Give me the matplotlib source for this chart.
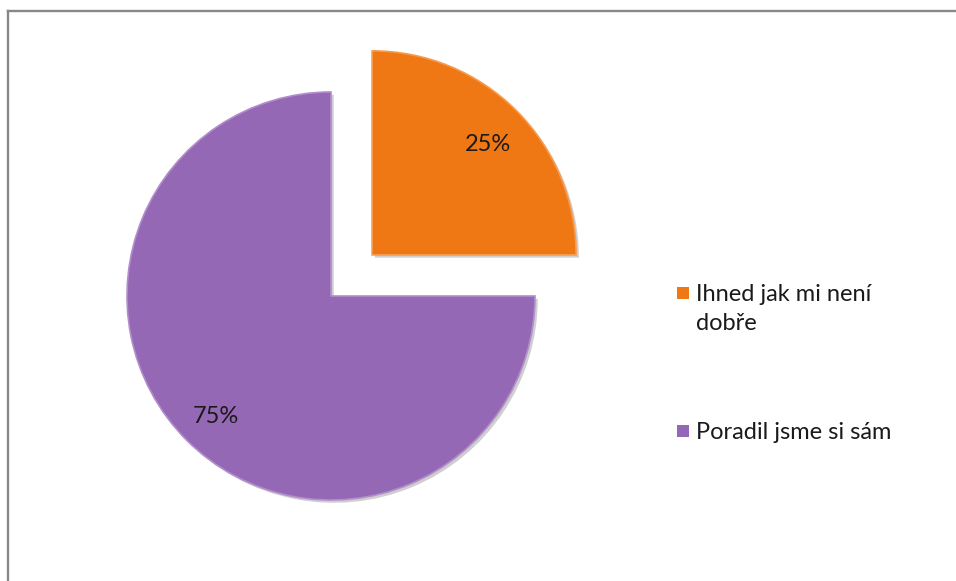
import matplotlib
matplotlib.use("Agg")
import matplotlib.pyplot as plt
import matplotlib.patheffects as pe
from matplotlib.patches import Rectangle
from matplotlib.lines import Line2D

# podíly odpovědí
labels = ["Ihned jak mi není\ndobře", "Poradil jsme si sám"]
values = [25, 75]
colors = ["#F07814", "#9568B5"]
edge_colors = ["#F59A4E", "#B28DCB"]

W, H = 956, 581
plt.rcParams["font.family"] = ["Lato", "DejaVu Sans"]

fig = plt.figure(figsize=(W / 100, H / 100), dpi=100)
ax = fig.add_axes([0, 0, 1, 1])

# pixel geometry of the pie: centre and radius
cx, cy, r = 331, 296, 204

wedges, texts, autotexts = ax.pie(
    values,
    colors=colors,
    startangle=90,
    counterclock=False,
    explode=[0.285, 0],
    autopct="%1.0f%%",
    pctdistance=0.8,
    textprops={"fontsize": 17, "color": "#1a1a1a"},
    wedgeprops={"linewidth": 1.2},
)
for w, ec in zip(wedges, edge_colors):
    w.set_edgecolor(ec)
    w.set_path_effects([
        pe.SimplePatchShadow(offset=(2, -2), shadow_rgbFace="#777777", alpha=0.35),
        pe.Normal(),
    ])
# percent labels sit a touch lower than the geometric centre
for t in autotexts:
    x, y = t.get_position()
    t.set_position((x, y - 0.025))

ax.set_xlim(-cx / r, (W - cx) / r)
ax.set_ylim(-(H - cy) / r, cy / r)
ax.set_aspect("auto")
ax.axis("off")

# legenda vpravo
legend_y = [293, 431]
for lab, col, y in zip(labels, colors, legend_y):
    fig.patches.append(Rectangle((677 / W, 1 - (y + 6) / H), 12 / W, 12 / H,
                                 transform=fig.transFigure, facecolor=col,
                                 edgecolor="none"))
    fig.text(696 / W, 1 - (y - 9) / H, lab, fontsize=17, color="#1a1a1a",
             va="top", ha="left", linespacing=1.45)

# rámeček grafu (horní a levá hrana)
fig.add_artist(Line2D([8 / W, 1], [1 - 11 / H, 1 - 11 / H], transform=fig.transFigure,
                      color="#888888", linewidth=1.7))
fig.add_artist(Line2D([8 / W, 8 / W], [0, 1 - 11 / H], transform=fig.transFigure,
                      color="#888888", linewidth=1.7))

fig.savefig("out.png", dpi=100, facecolor="white")
